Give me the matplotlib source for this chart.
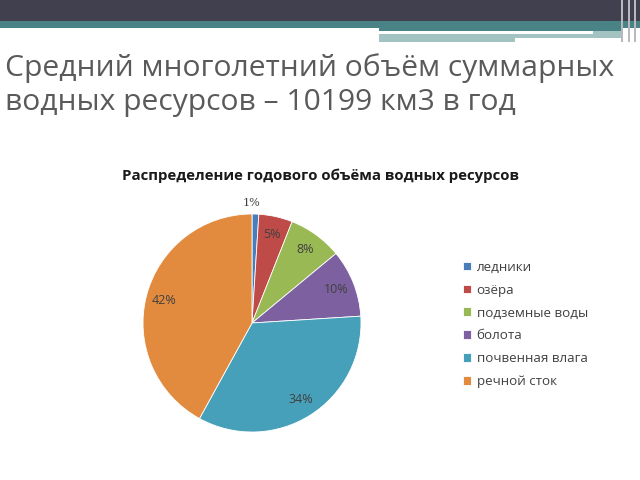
import matplotlib
matplotlib.use('Agg')
import matplotlib.pyplot as plt
from matplotlib.patches import Rectangle

plt.rcParams['font.family'] = ['Open Sans', 'DejaVu Sans']

# data
categories = ['ледники', 'озёра', 'подземные воды', 'болота',
              'почвенная влага', 'речной сток']
shares = [1, 5, 8, 10, 34, 42]
colors = ['#4A7EBB', '#BE4B48', '#98B954', '#7D60A0', '#46A0BA', '#E28B3E']

page_title = 'Средний многолетний объём суммарных\nводных ресурсов – 10199 км3 в год'
chart_title = 'Распределение годового объёма водных ресурсов'

fig = plt.figure(figsize=(6.4, 4.8), dpi=100)
fig.patch.set_facecolor('white')


def band(x0, y0, x1, y1, color):
    # rectangle given in pixel coords from the top-left corner
    fig.patches.append(Rectangle((x0/640, 1 - y1/480), (x1 - x0)/640, (y1 - y0)/480,
                                 transform=fig.transFigure, fc=color, ec='none'))


# slide header bands
band(0, 0, 640, 21, '#41404f')
band(0, 21, 640, 28, '#4a8385')
band(379, 28, 623, 31, '#4a8385')
band(379, 31, 623, 38, '#a3c2c2')
band(379, 31, 593, 34, 'white')
band(379, 38, 515, 42, '#a3c2c2')
for xv in (621, 628, 634):
    band(xv, 0, xv + 1.5, 42, '#b8b8c0')

fig.text(5/640, 1 - 85/480, page_title, fontsize=21.6, color='#5a5a5a',
         ha='left', va='center', linespacing=1.22)

fig.text(320/640, 1 - 176/480, chart_title, fontsize=10.8, fontweight='bold',
         color='#1a1a1a', ha='center', va='center')

# pie
ax = fig.add_axes([143/640, 48/480, 218/640, 218/480])
wedges, texts, autotexts = ax.pie(shares, colors=colors, startangle=90, counterclock=False,
                                  autopct='%d%%', pctdistance=0.83, radius=1,
                                  wedgeprops=dict(edgecolor='white', linewidth=0.6),
                                  textprops=dict(fontsize=9, color='#404040'))
# the tiny slice carries its label outside
autotexts[0].set_position((0.0, 1.1))
autotexts[0].set_family('DejaVu Serif')
autotexts[0].set_fontsize(8)
ax.set_xlim(-1, 1)
ax.set_ylim(-1, 1)
ax.set_aspect('equal')

leg = fig.legend(wedges, categories, loc='upper left',
                 bbox_to_anchor=(456/640, 1 - 254/480), frameon=False,
                 fontsize=9.6, handlelength=0.6, handleheight=0.6, handletextpad=0.45,
                 labelspacing=0.74, borderpad=0)
for t in leg.get_texts():
    t.set_color('#404040')

fig.savefig('out.png', dpi=100)
